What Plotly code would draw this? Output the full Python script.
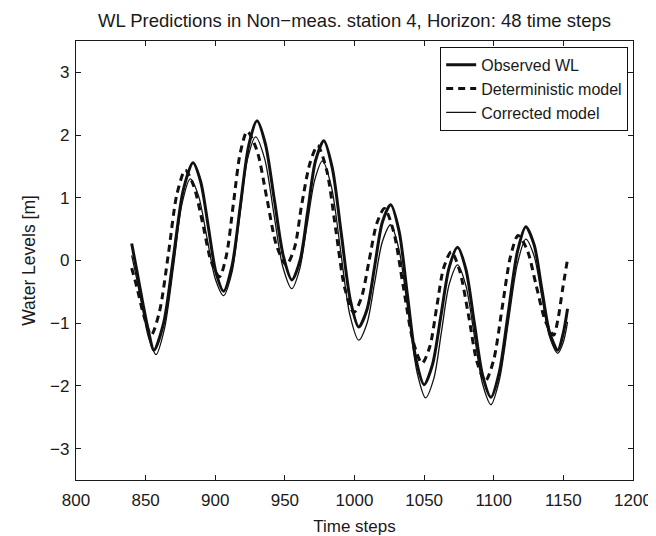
import plotly.graph_objects as go

# ---- data ----
obs_x = [840, 844, 848, 852, 856, 863, 870, 877, 884, 889.5, 895, 900.5, 906,
         912, 918, 924, 930, 936, 942.5, 949, 955, 961, 966.5, 972, 978,
         984, 990.5, 997, 1003, 1009, 1014.5, 1020, 1026, 1032, 1038, 1044, 1050,
         1056, 1062, 1068, 1074, 1080, 1086, 1092, 1098, 1104, 1110.5, 1117, 1123,
         1129, 1134.5, 1140, 1146, 1150, 1153]
obs_y = [0.27, -0.20, -0.68, -1.12, -1.43, -0.99, 0.06, 1.12, 1.56, 1.26, 0.54, -0.19, -0.49,
         -0.09, 0.87, 1.83, 2.23, 1.86, 0.96, 0.06, -0.31, 0.01, 0.80, 1.59, 1.91,
         1.48, 0.43, -0.63, -1.06, -0.78, -0.09, 0.61, 0.89, 0.47, -0.55, -1.56, -1.98,
         -1.66, -0.89, -0.11, 0.21, -0.14, -0.99, -1.83, -2.18, -1.78, -0.82, 0.14, 0.54,
         0.25, -0.45, -1.14, -1.43, -1.15, -0.77]

det_x = [840, 844, 848, 854, 860, 866.5, 872.5, 878.5, 884.5, 891, 897, 903,
         908, 913, 918, 923, 930, 937, 944, 951, 957, 962, 968, 973.5,
         980, 986.5, 993, 999.5, 1005, 1010.5, 1016, 1021.5, 1028, 1035, 1042, 1048.5,
         1054, 1059, 1064, 1069.5, 1075.5, 1082, 1088, 1094, 1100, 1106, 1112, 1117.5,
         1124, 1130.5, 1137, 1143, 1146, 1149.5, 1153]
det_y = [-0.12, -0.45, -0.82, -1.19, -0.81, 0.13, 1.06, 1.44, 1.19, 0.59, -0.01, -0.26,
         0.08, 0.90, 1.72, 2.06, 1.75, 1.00, 0.24, -0.07, 0.21, 0.88, 1.55, 1.83,
         1.44, 0.50, -0.44, -0.83, -0.59, 0.00, 0.59, 0.83, 0.47, -0.41, -1.28, -1.64,
         -1.38, -0.75, -0.12, 0.14, -0.16, -0.89, -1.62, -1.92, -1.58, -0.76, 0.06, 0.40,
         0.17, -0.40, -0.96, -1.19, -0.95, -0.45, 0.02]

cor_x = [840, 844, 848, 852, 857.5, 863.5, 870, 876, 882, 888, 894, 900, 906,
         912, 917.5, 923, 929, 935.5, 942, 948.5, 955, 960.5, 966, 971.5, 977,
         983.5, 990, 996.5, 1003, 1009, 1014.5, 1020, 1026, 1032, 1038.5, 1045, 1051,
         1057, 1062.5, 1068, 1074, 1080, 1086, 1092, 1098, 1104, 1110.5, 1117, 1123,
         1129, 1134.5, 1140, 1146, 1150, 1153]
cor_y = [0.08, -0.34, -0.80, -1.22, -1.50, -1.09, -0.10, 0.89, 1.30, 1.03, 0.37, -0.29, -0.56,
         -0.19, 0.70, 1.60, 1.97, 1.62, 0.76, -0.10, -0.45, -0.15, 0.57, 1.29, 1.59,
         1.17, 0.16, -0.85, -1.27, -1.00, -0.35, 0.30, 0.57, 0.17, -0.81, -1.79, -2.19,
         -1.88, -1.13, -0.38, -0.07, -0.40, -1.19, -1.97, -2.30, -1.91, -0.98, -0.05, 0.34,
         0.07, -0.57, -1.21, -1.48, -1.30, -0.98]

x_ticks = [800, 850, 900, 950, 1000, 1050, 1100, 1150, 1200]
y_ticks = [-3, -2, -1, 0, 1, 2, 3]

title_text = "WL Predictions in Non\u2212meas. station 4, Horizon: 48 time steps"
FONT = "Liberation Sans, Arial, Helvetica, sans-serif"
INK = "#1a1a1a"

fig = go.Figure()
fig.add_trace(go.Scatter(x=obs_x, y=obs_y, mode="lines", name="Observed WL",
                         line=dict(color="#111111", width=3, shape="spline", smoothing=0.8)))
fig.add_trace(go.Scatter(x=det_x, y=det_y, mode="lines", name="Deterministic model",
                         line=dict(color="#111111", width=3, dash="7px,5px", shape="spline", smoothing=0.8)))
fig.add_trace(go.Scatter(x=cor_x, y=cor_y, mode="lines", name="Corrected model",
                         line=dict(color="#111111", width=1.3, shape="spline", smoothing=0.8)))

axis_common = dict(showline=True, linecolor=INK, linewidth=1.2, mirror="ticks",
                   ticks="inside", ticklen=5, tickcolor=INK, tickwidth=1,
                   showgrid=False, zeroline=False,
                   tickfont=dict(family=FONT, size=17, color=INK))

fig.update_layout(
    width=656, height=536,
    paper_bgcolor="white", plot_bgcolor="white",
    margin=dict(l=68, r=19, t=33, b=55),
    font=dict(family=FONT, size=17, color=INK),
    title=dict(text=title_text, x=0.5, xref="paper", xanchor="center",
               y=1 - 13 / 536, yanchor="middle", yref="container",
               font=dict(family=FONT, size=18.5, color=INK)),
    xaxis=dict(range=[800, 1200], tickvals=x_ticks,
               title=dict(text="Time steps", standoff=11,
                          font=dict(family=FONT, size=17, color=INK)),
               ticklabelstandoff=4, **axis_common),
    yaxis=dict(range=[-3.5, 3.5], tickvals=y_ticks,
               title=dict(text="Water Levels [m]", standoff=9,
                          font=dict(family=FONT, size=17.5, color=INK)),
               ticklabelstandoff=2, **axis_common),
    legend=dict(x=0.991, xanchor="right", y=0.987, yanchor="top",
                bgcolor="white", bordercolor="#111111", borderwidth=1.2,
                font=dict(family=FONT, size=16, color=INK),
                tracegroupgap=0, itemwidth=30),
    showlegend=True,
)

fig.write_html("out.html")
